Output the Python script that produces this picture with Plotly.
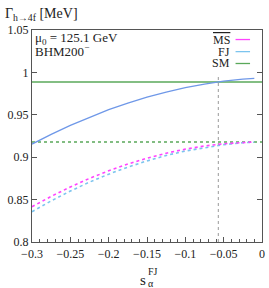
import plotly.graph_objects as go

# data
s_alpha = [-0.30, -0.275, -0.25, -0.225, -0.20, -0.175, -0.15, -0.125, -0.10, -0.075, -0.05, -0.025, -0.01]
fj_solid = [0.9155, 0.9270, 0.9375, 0.9472, 0.9560, 0.9638, 0.9708, 0.9768, 0.9820, 0.9862, 0.9896, 0.9920, 0.9930]
ms_dotted = [0.8416, 0.8538, 0.8649, 0.8750, 0.8840, 0.8919, 0.8988, 0.9047, 0.9095, 0.9132, 0.9159, 0.9175, 0.9180]
fj_dotted = [0.8357, 0.8485, 0.8601, 0.8706, 0.8800, 0.8883, 0.8956, 0.9020, 0.9073, 0.9115, 0.9148, 0.9171, 0.9177]
sm_x = [-0.30, 0.0]
sm_solid = [0.9887, 0.9887]
sm_dotted = [0.9180, 0.9180]
cross_x = [-0.057, -0.057]
cross_y = [0.80, 0.997]

x_ticks = [-0.3, -0.25, -0.2, -0.15, -0.1, -0.05, 0]
x_ticklabels = ["−0.3", "−0.25", "−0.2", "−0.15", "−0.1", "−0.05", "0"]
y_ticks = [0.8, 0.85, 0.9, 0.95, 1.0, 1.05]
y_ticklabels = ["0.8", "0.85", "0.9", "0.95", "1", "1.05"]

FONT = "Liberation Serif"
C_MS = "#ff44ff"
C_FJ = "#7cc4ee"
C_FJ_SOLID = "#6f98e8"
C_SM = "#5aa85a"

fig = go.Figure()
fig.add_trace(go.Scatter(x=cross_x, y=cross_y, mode="lines",
                         line=dict(color="#999999", width=1, dash="dot")))
fig.add_trace(go.Scatter(x=sm_x, y=sm_dotted, mode="lines",
                         line=dict(color=C_SM, width=1.6, dash="dot")))
fig.add_trace(go.Scatter(x=sm_x, y=sm_solid, mode="lines",
                         line=dict(color=C_SM, width=1.3)))
fig.add_trace(go.Scatter(x=s_alpha, y=fj_dotted, mode="lines",
                         line=dict(color=C_FJ, width=1.6, dash="dot")))
fig.add_trace(go.Scatter(x=s_alpha, y=ms_dotted, mode="lines",
                         line=dict(color=C_MS, width=1.6, dash="dot")))
fig.add_trace(go.Scatter(x=s_alpha, y=fj_solid, mode="lines",
                         line=dict(color=C_FJ_SOLID, width=1.3)))

axis_common = dict(showgrid=False, zeroline=False, showline=True,
                   linecolor="#555555", linewidth=1.2, ticks="inside",
                   tickcolor="#555555", ticklen=5, tickwidth=1,
                   tickfont=dict(family=FONT, size=12, color="#222222"))
fig.update_xaxes(range=[-0.3, 0], tickvals=x_ticks, ticktext=x_ticklabels,
                 mirror=True,
                 minor=dict(dtick=0.01, ticks="inside", ticklen=3,
                            tickcolor="#555555"),
                 **axis_common)
fig.update_yaxes(range=[0.8, 1.05], tickvals=y_ticks, ticktext=y_ticklabels,
                 mirror="ticks", **axis_common)

annotations = [
    dict(text="Γ<sub>h→4f</sub> [MeV]", x=0.0, xref="paper", xanchor="left",
         xshift=-29, y=1.0, yref="paper", yanchor="bottom", yshift=5,
         showarrow=False, font=dict(family=FONT, size=14, color="#222222")),
    dict(text="μ<sub>0</sub> = 125.1 GeV", x=0.0, xref="paper", xanchor="left",
         xshift=1, y=0.958, yref="paper", yanchor="middle",
         showarrow=False, font=dict(family=FONT, size=13, color="#222222")),
    dict(text="BHM200<sup>−</sup>", x=0.0, xref="paper", xanchor="left",
         xshift=1, y=0.903, yref="paper", yanchor="middle",
         showarrow=False, font=dict(family=FONT, size=13, color="#222222")),
    dict(text="s", x=0.5, xref="paper", xanchor="center", xshift=-4,
         y=0, yref="paper", yanchor="middle", yshift=-38,
         showarrow=False, font=dict(family=FONT, size=15, color="#222222")),
    dict(text="FJ", x=0.5, xref="paper", xanchor="left", xshift=-1,
         y=0, yref="paper", yanchor="middle", yshift=-29,
         showarrow=False, font=dict(family=FONT, size=10, color="#222222")),
    dict(text="α", x=0.5, xref="paper", xanchor="left", xshift=-1,
         y=0, yref="paper", yanchor="middle", yshift=-41,
         showarrow=False, font=dict(family=FONT, size=10, color="#222222")),
]
legend_items = [("<span style='text-decoration:overline'>MS</span>", C_MS, 0.955),
                ("FJ", C_FJ, 0.898), ("SM", C_SM, 0.842)]
shapes = []
for label, color, yy in legend_items:
    annotations.append(dict(text=label, x=0.87, xref="paper", xanchor="right",
                            y=yy, yref="paper", yanchor="middle",
                            showarrow=False,
                            font=dict(family=FONT, size=12, color="#222222")))
    shapes.append(dict(type="line", xref="paper", yref="paper",
                       x0=0.885, x1=0.948, y0=yy, y1=yy,
                       line=dict(color=color, width=1.3)))

fig.update_layout(width=269, height=288, showlegend=False,
                  margin=dict(l=32, r=4, t=30, b=46),
                  plot_bgcolor="white", paper_bgcolor="white",
                  annotations=annotations, shapes=shapes)
fig.write_html("out.html", config={"displayModeBar": False},
               post_script="document.body.style.margin='0';document.body.style.padding='0';")
